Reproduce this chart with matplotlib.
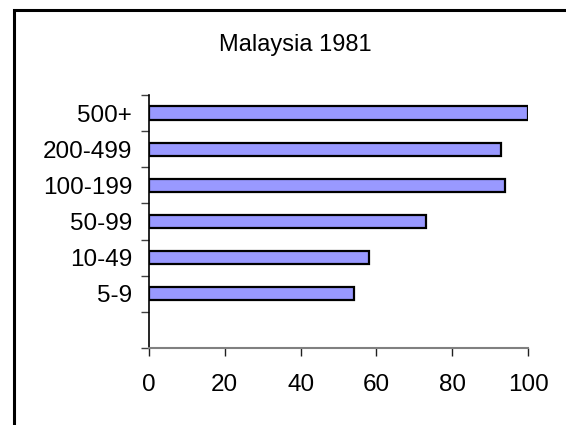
import matplotlib
matplotlib.use("Agg")
import matplotlib.pyplot as plt
from matplotlib.patches import Rectangle
import numpy as np

plt.rcParams["font.family"] = ["Liberation Sans", "DejaVu Sans"]

categories = ["5-9", "10-49", "50-99", "100-199", "200-499", "500+"]
values = [54, 58, 73, 94, 93, 100]
x_ticks = [0, 20, 40, 60, 80, 100]
title = "Malaysia 1981"

W, H = 566, 425
fig = plt.figure(figsize=(W / 100, H / 100), dpi=100)
fig.patch.set_facecolor("white")

# outer frame (left + top visible, runs off right/bottom)
fig.patches.append(Rectangle((13.5 / W, -0.05), 1.2, 1.05 - 10.5 / H, transform=fig.transFigure,
                             fill=False, edgecolor="black", linewidth=2.2, zorder=10))

ax = fig.add_axes([149 / W, 1 - 348 / H, (528 - 149) / W, (348 - 95) / H])
ax.set_facecolor("none")

pos = np.arange(1, len(categories) + 1)
ax.barh(pos, values, height=0.37, color="#9999ff", edgecolor="black", linewidth=1.6, zorder=3)

ax.set_xlim(0, 100)
ax.set_ylim(-0.5, len(categories) + 0.5)
ax.set_xticks(x_ticks)
ax.set_xticklabels([str(t) for t in x_ticks], fontsize=17.5)
ax.set_yticks(pos)
ax.set_yticklabels(categories, fontsize=17.5)
ax.set_yticks(np.arange(-0.5, len(categories) + 1, 1), minor=True)

ax.tick_params(axis="y", which="major", length=0, pad=12)
ax.tick_params(axis="y", which="minor", length=6, width=1.0, color="#404040", direction="out")
ax.tick_params(axis="x", length=6, width=1.0, color="#202020", direction="out", pad=13)

for s in ("top", "right"):
    ax.spines[s].set_visible(False)
ax.spines["left"].set_color("black")
ax.spines["left"].set_linewidth(1.2)
ax.spines["bottom"].set_color("#808080")
ax.spines["bottom"].set_linewidth(1.5)

fig.text(295.5 / W, 1 - 51 / H, title, ha="center", va="baseline", fontsize=17)

fig.savefig("out.png", dpi=100)
